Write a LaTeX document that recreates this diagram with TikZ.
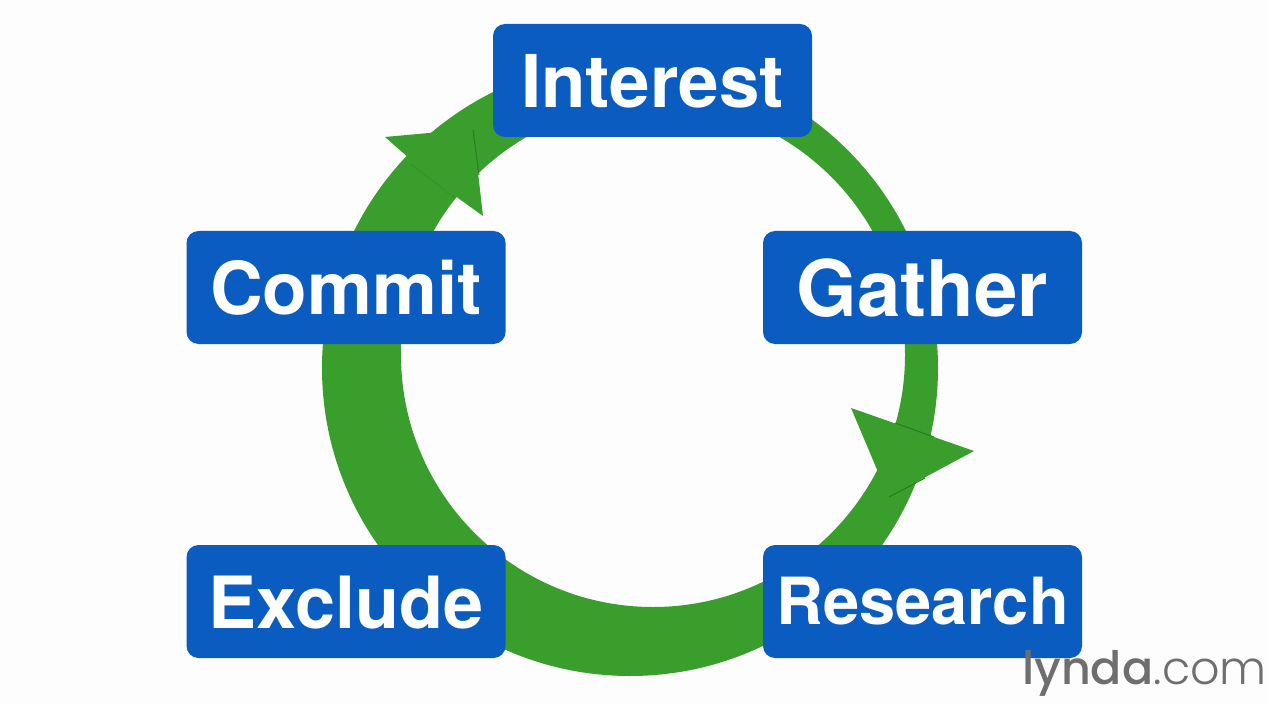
\documentclass[tikz,border=0pt]{standalone}
\usepackage{fontspec}
\setmainfont{TeX Gyre Heros}
\newfontfamily\logofont{Poppins}[UprightFont=* Medium]
\newfontfamily\logolight{Poppins}[UprightFont=* Light]
\definecolor{ringgreen}{HTML}{3A9E2C}
\definecolor{ringdark}{HTML}{2A7A22}
\definecolor{boxblue}{HTML}{0B5CC0}
\definecolor{logogray}{HTML}{6E6E6E}
\definecolor{paper}{HTML}{FDFDFD}
\tikzset{
  stagebox/.style={fill=boxblue,rounded corners=12pt,minimum width=319pt,inner sep=0pt,
    text=white,font=\bfseries,text depth=113pt-#1,text height=#1,outer sep=0pt},
  crease/.style={draw=ringdark,line width=1pt},
}
\begin{document}
\begin{tikzpicture}[x=1pt,y=-1pt]
\useasboundingbox (0,0) rectangle (1268,703);
\fill[paper] (0,0) rectangle (1268,703);
% ring
\fill[ringgreen,even odd rule] (630,368) circle [radius=308pt] (653,355) circle [radius=252pt];
% arrowheads
\fill[ringgreen] (385,137) -- (473,129) -- (483,216) -- (458,198) -- (410,159) -- cycle;
\draw[crease] (473,130) -- (479,175);
\draw[ringdark,line width=.5pt,opacity=.6] (411,164) -- (455,198);
\fill[ringgreen] (851,408) -- (974,451) -- (920,480) -- (888,497) -- (878,472) -- cycle;
\draw[crease] (895,423) -- (934,437);
\draw[crease] (889,497) -- (925,478);
% boxes
\node[stagebox=84pt] (interest) at (652.5,80.5) {\fontsize{72.8}{72}\selectfont Interest};
\node[stagebox=83pt] (commit) at (346,287.5) {\fontsize{73}{72}\selectfont Commit};
\node[stagebox=85pt] (gather) at (922.5,287.5) {\fontsize{78}{72}\selectfont Gather};
\node[stagebox=83pt] (exclude) at (346,601.5) {\fontsize{72}{72}\selectfont Exclude};
\node[stagebox=79pt] (research) at (922.5,601.5) {\fontsize{65}{72}\selectfont Research};
% logo
\node[anchor=base west,inner sep=0pt,text=logogray,font=\logofont\fontsize{46}{46}\selectfont] (lynda) at (1022,684) {lynda};
\node[anchor=base west,inner sep=0pt,text=logogray,font=\logolight\fontsize{46}{46}\selectfont] (com) at (lynda.base east) {.com};
\end{tikzpicture}
\end{document}
